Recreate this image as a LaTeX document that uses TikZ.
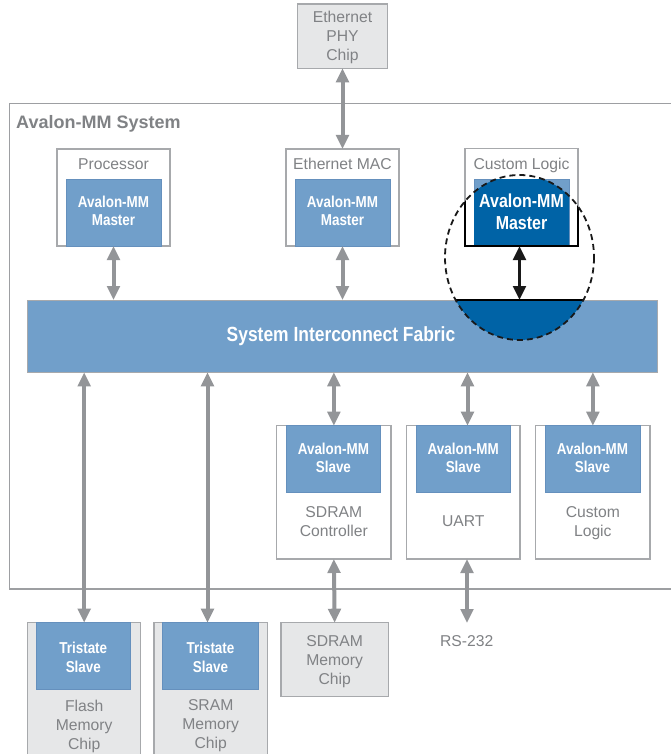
\documentclass[tikz,border=0pt]{standalone}
\usepackage{fontspec}
\setmainfont{Liberation Sans}
\newfontfamily\condfont[FakeStretch=0.85]{Liberation Sans}
\usetikzlibrary{arrows.meta}
\definecolor{lblue}{HTML}{719FCA}
\definecolor{dblue}{HTML}{0063A6}
\definecolor{bedge}{HTML}{6590BD}
\definecolor{agray}{HTML}{939598}
\definecolor{bgray}{HTML}{A7A9AC}
\definecolor{chipfill}{HTML}{E6E7E8}
\definecolor{tgray}{HTML}{808285}
\definecolor{sysgray}{HTML}{9D9FA2}
\tikzset{
  box/.style={draw=bgray, line width=1.4pt, fill=white, inner sep=0pt, outer sep=0pt, anchor=north west},
  chipbox/.style={box, fill=chipfill},
  ifbox/.style={fill=lblue, draw=bedge, line width=0.6pt, inner sep=0pt, outer sep=0pt, anchor=north west},
  iflabel/.style={text=white, font=\condfont\bfseries\fontsize{15.8}{18.5}\selectfont, align=center, anchor=north, inner sep=0pt},
  glabel/.style={text=tgray, font=\fontsize{15.7}{19}\selectfont, align=center, anchor=north, inner sep=0pt},
  garrow/.style={draw=agray, line width=4pt, {Triangle[width=12.5pt,length=14pt]}-{Triangle[width=12.5pt,length=14pt]}},
  karrow/.style={draw=black!90, line width=3.5pt, {Triangle[width=12.5pt,length=14pt]}-{Triangle[width=12.5pt,length=14pt]}},
}
\begin{document}
\begin{tikzpicture}[x=1pt,y=-1pt]
\useasboundingbox (0,0) rectangle (671,754);
\fill[white] (0,0) rectangle (671,754);
% system frame
\node[draw=sysgray, line width=1.4pt, inner sep=0pt, outer sep=0pt, anchor=north west, minimum width=680pt, minimum height=485.5pt] (sys) at (9.5,103.5) {};
\node[font=\bfseries\fontsize{18}{20}\selectfont, text=tgray, anchor=north west, inner sep=0pt] (systitle) at (16,114.9) {Avalon-MM System};
% top chip
\node[chipbox, minimum width=90.4pt, minimum height=64.3pt] (phy) at (297.3,4) {};
\node[glabel] (phyt) at (342.5,11.3) {Ethernet\\PHY\\Chip};
% masters
\node[box, minimum width=113pt, minimum height=97pt] (proc) at (57,149) {};
\node[ifbox, minimum width=95pt, minimum height=67pt] (procm) at (66,179) {};
\node[glabel] (procl) at (113.5,158.8) {Processor};
\node[iflabel] (procmt) at (113.5,195.5) {Avalon-MM\\Master};
\node[box, minimum width=113pt, minimum height=97pt] (mac) at (286,149) {};
\node[ifbox, minimum width=95pt, minimum height=67pt] (macm) at (295,179) {};
\node[glabel] (macl) at (342.5,157.9) {Ethernet MAC};
\node[iflabel] (macmt) at (342.5,195.5) {Avalon-MM\\Master};
\node[box, minimum width=113pt, minimum height=97.5pt] (cl) at (465,148.5) {};
\node[ifbox, minimum width=95pt, minimum height=67pt] (clm) at (474,179) {};
\node[glabel] (cll) at (521.5,158.1) {Custom Logic};
% fabric
\node[fill=lblue, draw=bgray, line width=1pt, inner sep=0pt, outer sep=0pt, anchor=north west, minimum width=630pt, minimum height=72.3pt] (fabric) at (27,300) {};
% slaves
\node[box, minimum width=114.3pt, minimum height=133.3pt] (sdc) at (276.7,425.7) {};
\node[ifbox, minimum width=94.7pt, minimum height=66.3pt] (sdcm) at (286,425.7) {};
\node[iflabel] (sdcmt) at (333.4,442.5) {Avalon-MM\\Slave};
\node[glabel] (sdcl) at (333.8,506.4) {SDRAM\\Controller};
\node[box, minimum width=113.3pt, minimum height=133.3pt] (uart) at (406.7,425.7) {};
\node[ifbox, minimum width=94.7pt, minimum height=66.3pt] (uartm) at (416,425.7) {};
\node[iflabel] (uartmt) at (463.3,442.5) {Avalon-MM\\Slave};
\node[glabel] (uartl) at (463.3,515.6) {UART};
\node[box, minimum width=114.3pt, minimum height=133.3pt] (cs) at (535.7,425.7) {};
\node[ifbox, minimum width=95pt, minimum height=66.3pt] (csm) at (545,425.7) {};
\node[iflabel] (csmt) at (592.5,442.5) {Avalon-MM\\Slave};
\node[glabel] (csl) at (592.8,506.6) {Custom\\Logic};
% chips
\node[chipbox, minimum width=113pt, minimum height=150pt] (flash) at (27.7,622.7) {};
\node[ifbox, minimum width=94.7pt, minimum height=66.3pt] (flashm) at (36,622.7) {};
\node[iflabel] (flashmt) at (83.3,642) {Tristate\\Slave};
\node[glabel] (flashl) at (84.2,699.6) {Flash\\Memory\\Chip};
\node[chipbox, minimum width=113.3pt, minimum height=150pt] (sram) at (154,622.7) {};
\node[ifbox, minimum width=95.6pt, minimum height=66.3pt] (sramm) at (162.7,622.7) {};
\node[iflabel] (srammt) at (210.5,642) {Tristate\\Slave};
\node[glabel] (sraml) at (210.7,699.6) {SRAM\\Memory\\Chip};
\node[chipbox, minimum width=107.3pt, minimum height=74pt] (sdchip) at (281,622.7) {};
\node[glabel] (sdchipl) at (334.7,635.3) {SDRAM\\Memory\\Chip};
\node[glabel] (rsl) at (466.7,635.3) {RS-232};
% coordinates
\coordinate (ec) at (519.5,257.5);
\coordinate (sramx) at (207.5,0);
\coordinate (uartx) at (467.5,0);
\coordinate (rsend) at (467,623);
% arrows
\draw[garrow] (phy.south) -- (mac.north);
\draw[garrow] (proc.south) -- (proc.south |- fabric.north);
\draw[garrow] (mac.south) -- (mac.south |- fabric.north);
\draw[garrow] (fabric.south -| flash.north) -- (flash.north);
\draw[garrow] (fabric.south -| sramx) -- (sram.north -| sramx);
\draw[garrow] (fabric.south -| sdc.north) -- (sdc.north);
\draw[garrow] (fabric.south -| uartx) -- (uart.north -| uartx);
\draw[garrow] (fabric.south -| cs.north) -- (cs.north);
\draw[garrow] (sdc.south) -- (sdchip.north);
\draw[garrow] (uart.south -| rsend) -- (rsend);
% highlight
\begin{scope}
  \clip (ec) ellipse [x radius=74.5, y radius=82.5];
  \fill[dblue] (fabric.north west) rectangle (fabric.south east);
  \fill[dblue] (clm.north west) rectangle (clm.south east);
  \draw[black, line width=1.4pt] (cl.north west) rectangle (cl.south east);
  \draw[black, line width=1.4pt] (fabric.north west) -- (fabric.north east);
\end{scope}
\node[text=white, font=\condfont\bfseries\fontsize{20.5}{22}\selectfont, anchor=north, inner sep=0pt] (fabrict) at (341,326.2) {System Interconnect Fabric};
\draw[black!90, line width=1.8pt, dash pattern=on 6pt off 4pt] (ec) ellipse [x radius=74.5, y radius=82.5];
\node[text=white, font=\condfont\bfseries\fontsize{18.8}{22}\selectfont, align=center, anchor=north, inner sep=0pt] (clmt) at (521.5,193.3) {Avalon-MM\\Master};
\draw[karrow] (cl.south -| ec) -- (fabric.north -| ec);
\end{tikzpicture}
\end{document}
